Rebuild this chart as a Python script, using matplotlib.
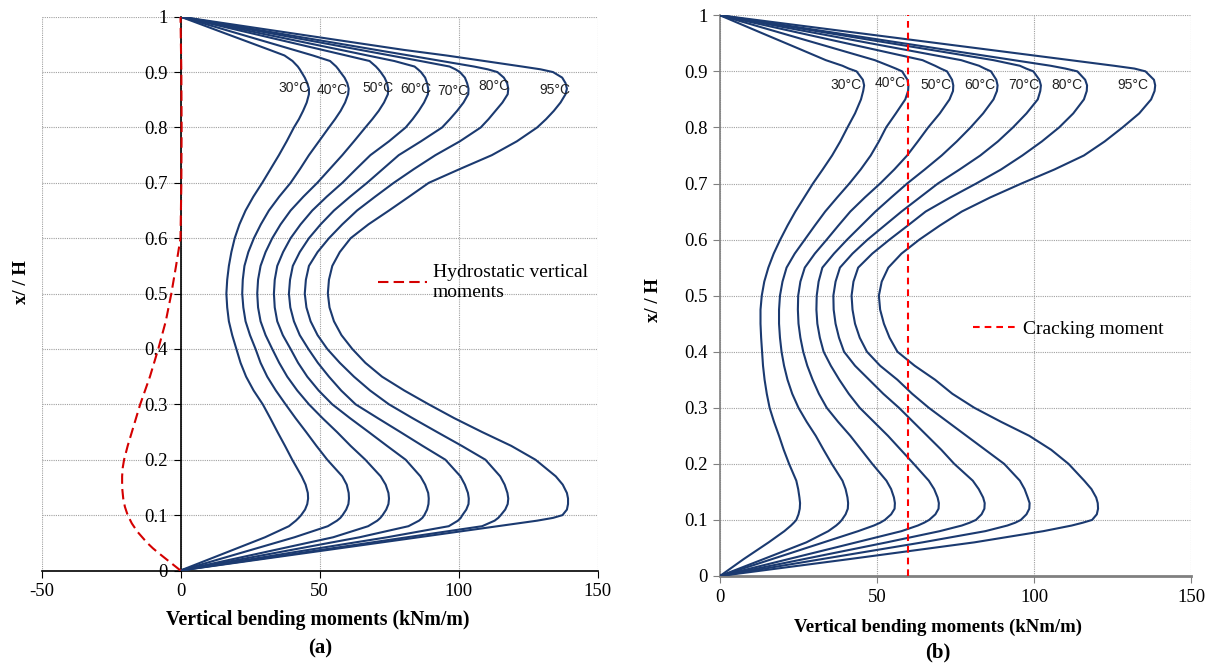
import matplotlib
matplotlib.use("Agg")
import matplotlib.pyplot as plt

# ---------------- data ----------------
temps = ["30°C", "40°C", "50°C", "60°C", "70°C", "80°C", "95°C"]

# (a) vertical bending moments (kNm/m) against x/H
y_a = [0, 0.03, 0.06, 0.08, 0.09, 0.095, 0.10, 0.11, 0.12, 0.13,
       0.14, 0.155, 0.17, 0.20, 0.225, 0.25, 0.275, 0.30, 0.325, 0.35,
       0.375, 0.40, 0.425, 0.45, 0.475, 0.50, 0.525, 0.55, 0.575, 0.60,
       0.625, 0.65, 0.675, 0.70, 0.725, 0.75, 0.775, 0.80, 0.815, 0.83,
       0.845, 0.86, 0.87, 0.88, 0.89, 0.90, 0.905, 0.91, 0.92, 0.93,
       0.94, 0.97, 1.0]
m30_a = [0, 15.2, 30.4, 39.0, 41.5, 42.5, 43.4, 44.8, 45.6, 45.9,
         45.8, 45.0, 43.6, 40.2, 37.6, 34.9, 32.3, 29.6, 26.3, 23.6,
         21.6, 20.1, 18.6, 17.4, 16.8, 16.5, 16.8, 17.4, 18.3, 19.5,
         21.2, 23.4, 26.2, 29.4, 32.4, 35.4, 38.2, 40.8, 42.6, 44.1,
         45.4, 46.2, 46.2, 45.6, 44.7, 43.5, 42.9, 42.2, 40.3, 37.4,
         32.1, 16.0, 0]
m40_a = [0, 20.5, 41.0, 53.0, 56.3, 57.5, 58.3, 59.6, 60.4, 60.6,
         60.5, 59.8, 58.2, 52.8, 48.9, 45.2, 41.4, 37.8, 34.3, 31.2,
         28.8, 27.0, 25.0, 23.4, 22.6, 22.2, 22.4, 23.0, 24.4, 26.4,
         28.9, 31.8, 35.5, 39.6, 43.0, 46.2, 49.8, 53.4, 55.6, 57.6,
         59.2, 60.3, 60.5, 60.0, 59.0, 57.5, 56.8, 56.0, 53.8, 47.6,
         40.8, 20.4, 0]
m50_a = [0, 27.5, 54.9, 67.5, 70.8, 71.9, 72.7, 74.0, 74.8, 75.0,
         74.8, 73.8, 72.0, 66.5, 61.2, 56.3, 51.1, 46.2, 42.0, 38.4,
         35.5, 33.0, 30.6, 28.8, 27.9, 27.6, 27.9, 28.8, 30.6, 33.0,
         36.0, 39.6, 44.2, 49.2, 53.7, 58.2, 62.4, 66.5, 69.0, 71.3,
         73.2, 74.6, 74.7, 74.3, 73.4, 72.0, 71.2, 70.3, 68.0, 59.6,
         51.1, 25.6, 0]
m60_a = [0, 32.2, 64.4, 82.0, 85.8, 87.0, 87.7, 88.7, 89.2, 89.3,
         89.1, 88.0, 86.3, 81.0, 74.3, 67.7, 61.0, 54.6, 49.7, 45.6,
         42.3, 39.6, 36.8, 34.8, 33.9, 33.6, 33.9, 34.8, 36.9, 39.6,
         43.2, 47.4, 52.6, 58.2, 63.2, 68.3, 75.0, 81.0, 83.5, 85.7,
         87.6, 89.0, 89.1, 88.7, 88.0, 86.5, 85.4, 84.2, 76.9, 67.3,
         57.7, 28.8, 0]
m70_a = [0, 37.1, 74.3, 96.5, 99.8, 100.8, 101.4, 102.8, 103.6, 103.7,
         103.4, 102.3, 100.7, 95.3, 87.1, 79.1, 71.0, 63.0, 57.8, 53.4,
         49.4, 46.0, 42.9, 40.8, 39.5, 39.0, 39.4, 40.4, 42.9, 46.2,
         50.4, 55.2, 61.0, 67.1, 72.8, 78.5, 86.5, 94.1, 96.9, 99.5,
         101.8, 103.5, 103.6, 103.1, 102.3, 100.5, 98.9, 96.8, 86.3, 75.5,
         64.7, 32.4, 0]
m80_a = [0, 40.8, 81.5, 108.5, 113.0, 114.3, 115.2, 116.8, 117.7, 117.9,
         117.6, 116.6, 115.0, 109.7, 101.2, 92.3, 83.5, 75.0, 68.2, 62.4,
         57.3, 52.8, 49.3, 46.8, 45.3, 44.7, 45.1, 46.2, 49.3, 53.4,
         58.2, 63.5, 70.0, 76.7, 84.0, 91.7, 100.5, 108.0, 110.8, 113.3,
         115.8, 117.7, 117.9, 117.5, 116.3, 114.0, 110.5, 105.6, 93.9, 82.2,
         70.4, 35.2, 0]
m95_a = [0, 42.8, 85.6, 114.1, 128.3, 134.0, 137.4, 139.0, 139.4, 139.4,
         139.0, 137.5, 135.0, 127.7, 119.0, 108.5, 98.5, 89.3, 80.5, 72.5,
         66.5, 61.8, 57.9, 55.2, 53.6, 53.0, 53.4, 54.6, 57.3, 61.2,
         67.6, 75.0, 82.2, 89.3, 100.5, 112.0, 121.0, 128.3, 131.5, 134.3,
         136.7, 138.5, 139.0, 138.5, 137.3, 134.0, 129.5, 122.9, 109.3, 95.6,
         80.4, 40.2, 0]

# hydrostatic vertical moments
y_hyd = [0, 0.01, 0.02, 0.03, 0.04, 0.05, 0.07, 0.085, 0.10, 0.115, 0.13, 0.15, 0.17, 0.185,
         0.20, 0.225, 0.25, 0.30, 0.35, 0.40, 0.45, 0.50, 0.55, 0.60, 0.70, 0.80, 0.90, 1.0]
m_hyd = [0, -2.5, -5.0, -7.5, -9.9, -12.0, -15.5, -17.5, -19.0, -20.0, -20.6, -21.0, -21.0, -20.8,
         -20.3, -19.0, -17.5, -14.5, -11.0, -8.0, -5.3, -3.3, -1.6, 0, 0.3, 0.4, 0.3, 0]

# (b)
y_b = [0, 0.03, 0.06, 0.08, 0.09, 0.095, 0.10, 0.11, 0.12, 0.13,
       0.14, 0.155, 0.17, 0.20, 0.225, 0.25, 0.275, 0.30, 0.325, 0.35,
       0.375, 0.40, 0.425, 0.45, 0.475, 0.50, 0.525, 0.55, 0.575, 0.60,
       0.625, 0.65, 0.675, 0.70, 0.725, 0.75, 0.775, 0.80, 0.825, 0.85,
       0.865, 0.875, 0.885, 0.90, 0.905, 0.91, 0.92, 0.94, 0.97, 1.0]
m30_b = [0, 7.5, 15.5, 20.5, 22.6, 23.5, 24.3, 25.0, 25.4, 25.5,
         25.3, 24.9, 24.3, 22.0, 20.3, 18.8, 17.2, 15.8, 14.9, 14.2,
         13.7, 13.4, 13.1, 12.9, 12.9, 13.3, 14.1, 15.4, 17.1, 19.2,
         21.5, 24.0, 26.8, 29.6, 32.7, 35.7, 38.3, 40.6, 43.0, 44.9,
         45.6, 45.9, 45.5, 43.5, 41.0, 39.0, 33.7, 25.3, 12.6, 0]
m40_b = [0, 13.8, 27.5, 34.5, 37.0, 38.0, 38.8, 40.0, 40.7, 40.8,
         40.6, 40.0, 39.0, 35.6, 33.0, 30.5, 27.6, 25.0, 23.0, 21.5,
         20.4, 19.6, 19.1, 18.8, 18.8, 19.1, 19.9, 21.2, 23.8, 27.0,
         30.2, 33.5, 37.3, 41.2, 44.8, 48.0, 50.6, 52.9, 56.0, 59.0,
         59.9, 60.0, 59.7, 58.0, 56.0, 53.8, 49.3, 37.0, 18.5, 0]
m50_b = [0, 16.5, 33.0, 44.0, 49.0, 51.0, 52.5, 54.5, 55.6, 55.7,
         55.4, 54.5, 53.0, 48.5, 45.0, 41.5, 37.6, 34.0, 31.5, 29.5,
         27.8, 26.5, 25.6, 25.0, 24.8, 24.9, 25.6, 27.0, 30.2, 34.0,
         37.7, 41.5, 46.1, 51.0, 55.5, 59.6, 63.0, 66.3, 70.0, 73.1,
         74.2, 74.3, 73.9, 72.3, 70.3, 68.5, 64.5, 48.4, 24.2, 0]
m60_b = [0, 21.7, 43.4, 57.8, 63.0, 65.0, 66.6, 68.6, 69.6, 69.7,
         69.3, 68.2, 66.5, 61.7, 57.6, 53.5, 49.0, 44.5, 41.0, 38.0,
         35.3, 33.0, 31.8, 31.0, 30.7, 30.8, 31.4, 32.6, 36.3, 40.5,
         45.0, 49.5, 54.5, 59.6, 65.2, 70.6, 75.4, 79.8, 83.8, 87.1,
         88.2, 88.4, 88.0, 86.3, 84.3, 82.5, 76.8, 57.6, 28.8, 0]
m70_b = [0, 26.6, 53.1, 70.0, 77.0, 79.5, 81.5, 83.3, 84.2, 84.3,
         83.8, 82.4, 80.5, 74.6, 70.5, 66.0, 61.5, 57.0, 52.0, 47.5,
         43.0, 39.5, 37.9, 36.8, 36.2, 36.1, 36.8, 38.2, 42.2, 47.0,
         52.4, 57.8, 63.6, 69.4, 76.3, 82.9, 88.5, 93.3, 97.6, 101.2,
         102.0, 102.2, 101.7, 99.8, 97.5, 95.5, 87.1, 65.4, 32.7, 0]
m80_b = [0, 32.3, 64.5, 84.5, 91.5, 94.0, 95.8, 97.6, 98.5, 98.6,
         98.0, 97.0, 95.5, 90.5, 84.5, 78.5, 72.5, 66.5, 61.2, 56.5,
         51.0, 46.8, 44.5, 43.0, 42.2, 41.9, 42.5, 44.0, 48.5, 54.0,
         59.8, 65.5, 73.3, 81.6, 89.5, 96.3, 102.5, 108.0, 112.5, 115.9,
         116.8, 116.9, 116.3, 113.8, 110.0, 105.3, 93.6, 70.2, 35.1, 0]
m95_b = [0, 41.0, 81.0, 103.0, 112.0, 115.5, 118.5, 120.0, 120.4, 120.3,
         119.8, 118.3, 116.0, 111.0, 105.5, 98.5, 89.5, 81.0, 74.0, 68.5,
         62.0, 56.5, 54.0, 52.2, 51.0, 50.6, 51.5, 53.6, 57.8, 63.5,
         70.0, 77.0, 86.0, 96.0, 106.5, 115.9, 122.5, 128.2, 133.5, 137.3,
         138.4, 138.6, 138.2, 135.5, 132.0, 125.5, 111.6, 83.7, 41.8, 0]

cracking_moment = 60

curves_a = [m30_a, m40_a, m50_a, m60_a, m70_a, m80_a, m95_a]
curves_b = [m30_b, m40_b, m50_b, m60_b, m70_b, m80_b, m95_b]

# where the temperature tags sit
lab_a_x = [40.9, 54.7, 71.0, 84.5, 98.1, 112.9, 134.5]
lab_a_y = [0.871, 0.867, 0.871, 0.870, 0.866, 0.875, 0.867]
lab_b_x = [40.2, 54.2, 68.9, 82.9, 96.7, 110.5, 131.5]
lab_b_y = [0.876, 0.880, 0.876, 0.876, 0.876, 0.876, 0.876]

# ---------------- figure ----------------
blue = "#1b3a70"
plt.rcParams["font.family"] = "Liberation Serif"
plt.rcParams["axes.unicode_minus"] = False

fig = plt.figure(figsize=(12.16, 6.66), dpi=100)
ax1 = fig.add_axes([41.5 / 1216, (666 - 570.5) / 666, 556 / 1216, 553.8 / 666])
ax2 = fig.add_axes([720 / 1216, (666 - 576) / 666, 471 / 1216, 560.7 / 666])

for m in curves_a:
    ax1.plot(m, y_a, color=blue, lw=1.5, zorder=3)
ax1.plot(m_hyd, y_hyd, color="#d40000", lw=1.5, dashes=(5, 2.5), zorder=4,
         label="Hydrostatic vertical\nmoments")

for m in curves_b:
    ax2.plot(m, y_b, color=blue, lw=1.5, zorder=3)
ax2.axvline(cracking_moment, color="#ff0000", lw=1.5, dashes=(3.2, 2.4), zorder=4,
            label="Cracking moment")

for t, x, y in zip(temps, lab_a_x, lab_a_y):
    ax1.text(x, y, t, ha="center", va="center", fontsize=10,
             family="Liberation Sans", color="#222222", zorder=5)
for t, x, y in zip(temps, lab_b_x, lab_b_y):
    ax2.text(x, y, t, ha="center", va="center", fontsize=10,
             family="Liberation Sans", color="#222222", zorder=5)

ax1.set_xlim(-50, 150)
ax2.set_xlim(0, 150)
for ax in (ax1, ax2):
    ax.set_ylim(0, 1)
    ax.set_yticks([i / 10 for i in range(11)])
    ax.set_yticklabels(["0"] + ["0.%d" % i for i in range(1, 10)] + ["1"])
    ax.spines["top"].set_visible(False)
    ax.spines["right"].set_visible(False)
    ax.grid(True, color="#a0a0a0", linestyle=(0, (1, 1)), lw=0.8, zorder=0)
    ax.tick_params(direction="out", length=5, labelsize=13.5, pad=4)
    ax.set_axisbelow(True)

ax1.set_xticks([-50, 0, 50, 100, 150])
ax2.set_xticks([0, 50, 100, 150])
ax1.spines["left"].set_position(("data", 0))
ax1.spines["left"].set_linewidth(1.2)
ax1.spines["bottom"].set_linewidth(1.2)
ax2.spines["left"].set_color("#808080")
ax2.spines["bottom"].set_color("#808080")
ax2.spines["left"].set_linewidth(1.2)
ax2.spines["bottom"].set_linewidth(2)
ax2.tick_params(color="#808080")

ax1.legend(loc="upper left", bbox_to_anchor=(0.592, 0.567), frameon=False, fontsize=14,
           handlelength=2.5, handletextpad=0.3, borderaxespad=0)
ax2.legend(loc="upper left", bbox_to_anchor=(0.52, 0.47), frameon=False, fontsize=14,
           handlelength=2.2, handletextpad=0.4, borderaxespad=0)

# axis titles and panel tags
fig.text(318 / 1216, 1 - 620 / 666, "Vertical bending moments (kNm/m)", ha="center", va="center",
         fontsize=14.2, fontweight="bold")
fig.text(320 / 1216, 1 - 648 / 666, "(a)", ha="center", va="center", fontsize=15, fontweight="bold")
fig.text(938 / 1216, 1 - 627 / 666, "Vertical bending moments (kNm/m)", ha="center", va="center",
         fontsize=13.5, fontweight="bold")
fig.text(938 / 1216, 1 - 652 / 666, "(b)", ha="center", va="center", fontsize=15, fontweight="bold")
fig.text(22 / 1216, 1 - 282 / 666, "x/ / H", ha="center", va="center", rotation=90,
         fontsize=13.5, fontweight="bold")
fig.text(654 / 1216, 1 - 300 / 666, "x/ / H", ha="center", va="center", rotation=90,
         fontsize=13.5, fontweight="bold")

fig.savefig("out.png", dpi=100)
